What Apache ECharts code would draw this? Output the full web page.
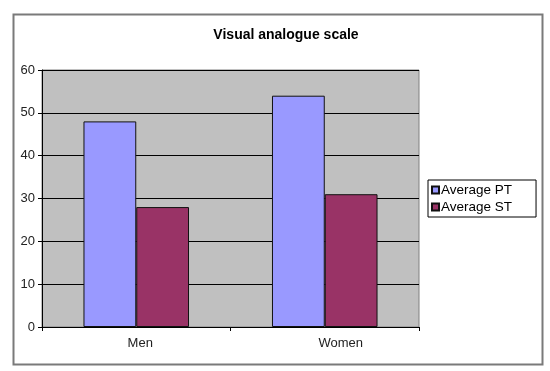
<!DOCTYPE html>
<html>
<head>
<meta charset="utf-8">
<script src="https://cdn.jsdelivr.net/npm/echarts@6/dist/echarts.min.js"></script>
<style>
html,body{margin:0;padding:0;background:#fff;}
#chart{width:550px;height:371px;}
</style>
</head>
<body>
<div id="chart"></div>
<script>
const categories = ["Men", "Women"];
const averagePT = [48, 54];
const averageST = [28, 31];
const yTicks = [0, 10, 20, 30, 40, 50, 60];

const chart = echarts.init(document.getElementById('chart'), null, {renderer: 'canvas'});
const font = '"Liberation Sans", Arial, sans-serif';
chart.setOption({
  animation: false,
  backgroundColor: '#ffffff',
  title: {
    text: 'Visual analogue scale',
    left: 281, top: 23, textAlign: 'center',
    textStyle: {fontFamily: font, fontSize: 14, fontWeight: 'bold', color: '#000'}
  },
  graphic: [{
    type: 'rect', left: 11, top: 12, z: -10,
    shape: {width: 529, height: 350},
    style: {fill: 'none', stroke: '#7a7a7a', lineWidth: 2}
  }],
  legend: {
    orient: 'vertical', left: 428, top: 180,
    padding: [3, 24, 3, 3],
    itemGap: 3, itemWidth: 7, itemHeight: 7,
    borderColor: '#000', borderWidth: 1,
    icon: 'rect',
    textStyle: {fontFamily: font, fontSize: 13.5, color: '#000', padding: [0, 0, 0, -3]},
    data: ['Average PT', 'Average ST']
  },
  grid: {
    left: 42, right: 131, top: 70, bottom: 44,
    show: true, backgroundColor: '#C0C0C0', borderColor: '#808080', borderWidth: 1
  },
  xAxis: {
    type: 'category', data: categories,
    axisLine: {lineStyle: {color: '#000', width: 1}},
    axisTick: {show: true, length: 4, lineStyle: {color: '#000'}},
    axisLabel: {
      fontFamily: font, fontSize: 13, color: '#222', margin: 10,
      formatter: function (v, i) { return i === 0 ? '{a|' + v + '}' : '{b|' + v + '}'; },
      rich: {
        a: {fontFamily: font, fontSize: 13, color: '#222', padding: [0, 0, 0, 8]},
        b: {fontFamily: font, fontSize: 13, color: '#222', padding: [0, 0, 0, 32]}
      }
    }
  },
  yAxis: {
    type: 'value', min: yTicks[0], max: yTicks[yTicks.length - 1], interval: 10,
    axisLine: {show: true, lineStyle: {color: '#000', width: 1}},
    axisTick: {show: true, length: 4, lineStyle: {color: '#000'}},
    splitLine: {show: true, lineStyle: {color: '#000', width: 1}},
    axisLabel: {fontFamily: font, fontSize: 13, color: '#222', margin: 7}
  },
  series: [{
    name: 'Average PT', type: 'bar', data: averagePT,
    barGap: '0%', barCategoryGap: '44%',
    itemStyle: {color: '#9999FF', borderColor: '#111', borderWidth: 1}
  }, {
    name: 'Average ST', type: 'bar', data: averageST,
    itemStyle: {color: '#993366', borderColor: '#111', borderWidth: 1}
  }]
});
</script>
</body>
</html>
